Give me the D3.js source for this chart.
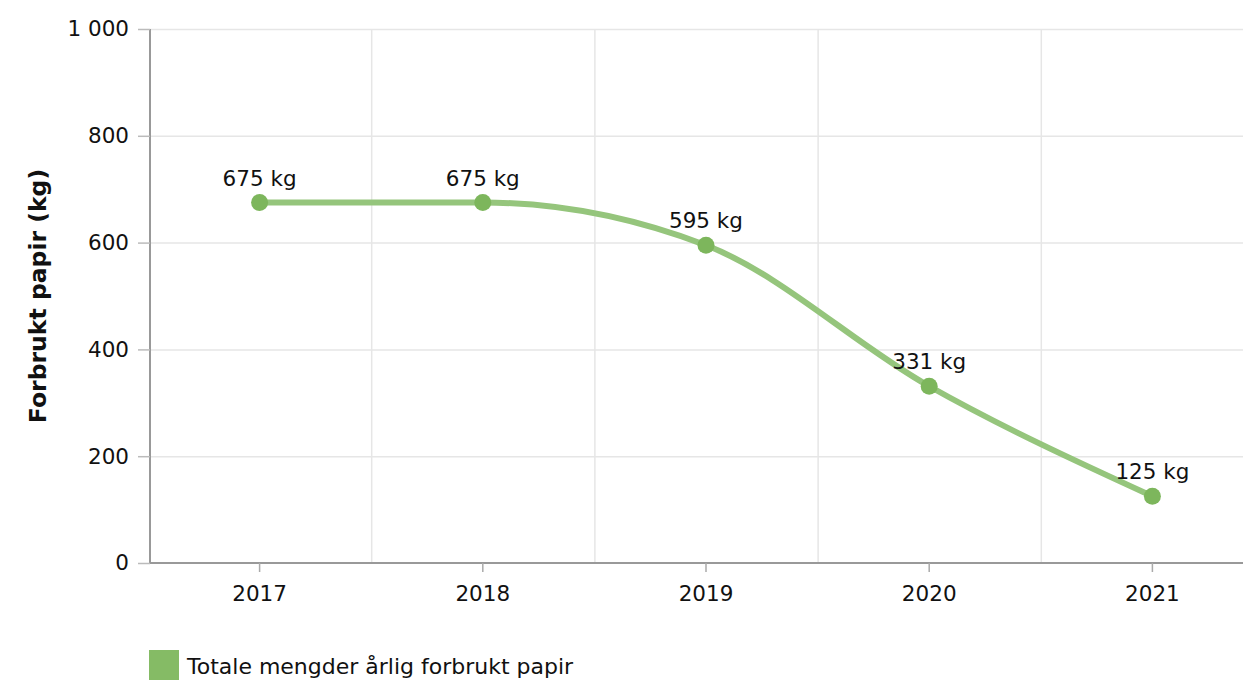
<!DOCTYPE html>
<meta charset="utf-8">
<head>
<style>
  body { margin: 0; background: #fff; }
  text { font-family: "DejaVu Sans", Verdana, sans-serif; fill: #111; }
</style>
</head>
<body>
<script src="https://d3js.org/d3.v7.min.js"></script>
<div id="chart"></div>
<script>

// data
var years = ["2017", "2018", "2019", "2020", "2021"];
var paper = [675, 675, 595, 331, 125];
var yTicks = [0, 200, 400, 600, 800, 1000];
var seriesName = "Totale mengder årlig forbrukt papir";
var yTitle = "Forbrukt papir (kg)";

var W = 1243, H = 688;
var plotLeft = 150, plotTop = 29, plotBottom = 563, plotRight = 1264;
var fs = "21.5px";

var svg = d3.select("#chart").append("svg")
  .attr("width", W)
  .attr("height", H);

var x = d3.scaleBand()
  .domain(years)
  .range([148, plotRight]);

var y = d3.scaleLinear()
  .domain([0, 1000])
  .range([plotBottom, plotTop]);

var fmt = function(d) { return d3.format(",")(d).replace(/,/g, " "); };

// horizontal grid
svg.append("g").selectAll("line")
  .data(yTicks.filter(function(d) { return d > 0; }))
  .enter().append("line")
  .attr("x1", plotLeft).attr("x2", W)
  .attr("y1", function(d) { return y(d) + 0.5; })
  .attr("y2", function(d) { return y(d) + 0.5; })
  .attr("stroke", "#e6e6e6")
  .attr("stroke-width", 1.5);

// vertical grid between categories
svg.append("g").selectAll("line")
  .data(years.slice(1))
  .enter().append("line")
  .attr("x1", function(d) { return x(d) + 0.5; })
  .attr("x2", function(d) { return x(d) + 0.5; })
  .attr("y1", plotTop).attr("y2", plotBottom)
  .attr("stroke", "#e6e6e6")
  .attr("stroke-width", 1.5);

// y axis
var yAxis = svg.append("g")
  .attr("transform", "translate(" + plotLeft + ",0)")
  .call(d3.axisLeft(y).tickValues(yTicks).tickFormat(fmt).tickSize(12).tickPadding(9));
yAxis.select(".domain").attr("stroke", "#999").attr("stroke-width", 2).attr("d", "M0," + plotTop + "V" + plotBottom);
yAxis.selectAll(".tick line").attr("stroke", "#bbb").attr("stroke-width", 1.5);
yAxis.selectAll(".tick text").style("font-size", fs).attr("fill", "#111");

// x axis
var xAxis = svg.append("g")
  .attr("transform", "translate(0," + plotBottom + ")")
  .call(d3.axisBottom(x).tickSize(9).tickPadding(14));
xAxis.select(".domain").attr("stroke", "#999").attr("stroke-width", 2).attr("d", "M" + plotLeft + ",0H" + W);
xAxis.selectAll(".tick line").attr("stroke", "#aaa").attr("stroke-width", 1.5);
xAxis.selectAll(".tick text").style("font-size", fs).attr("fill", "#111");

// y title
svg.append("text")
  .attr("transform", "translate(46," + ((plotTop + plotBottom) / 2) + ") rotate(-90)")
  .attr("text-anchor", "middle")
  .style("font-size", "23.5px")
  .style("font-weight", "bold")
  .text(yTitle);

var pts = years.map(function(d, i) { return [x(d) + x.bandwidth() / 2, y(paper[i])]; });

// line
svg.append("path")
  .datum(pts)
  .attr("d", d3.line().curve(d3.curveMonotoneX))
  .attr("fill", "none")
  .attr("stroke", "#95c57c")
  .attr("stroke-width", 6)
  .attr("stroke-linecap", "round");

// points
svg.append("g").selectAll("circle")
  .data(pts)
  .enter().append("circle")
  .attr("cx", function(d) { return d[0]; })
  .attr("cy", function(d) { return d[1]; })
  .attr("r", 8.5)
  .attr("fill", "#7db65c");

// data labels
svg.append("g").selectAll("text")
  .data(pts)
  .enter().append("text")
  .attr("x", function(d) { return d[0]; })
  .attr("y", function(d) { return d[1] - 17; })
  .attr("text-anchor", "middle")
  .style("font-size", fs)
  .text(function(d, i) { return paper[i] + " kg"; });

// legend
svg.append("rect")
  .attr("x", 149).attr("y", 650)
  .attr("width", 30).attr("height", 30)
  .attr("fill", "#85bb65");
svg.append("text")
  .attr("x", 187).attr("y", 674)
  .style("font-size", "22px")
  .text(seriesName);

</script>
</body>
